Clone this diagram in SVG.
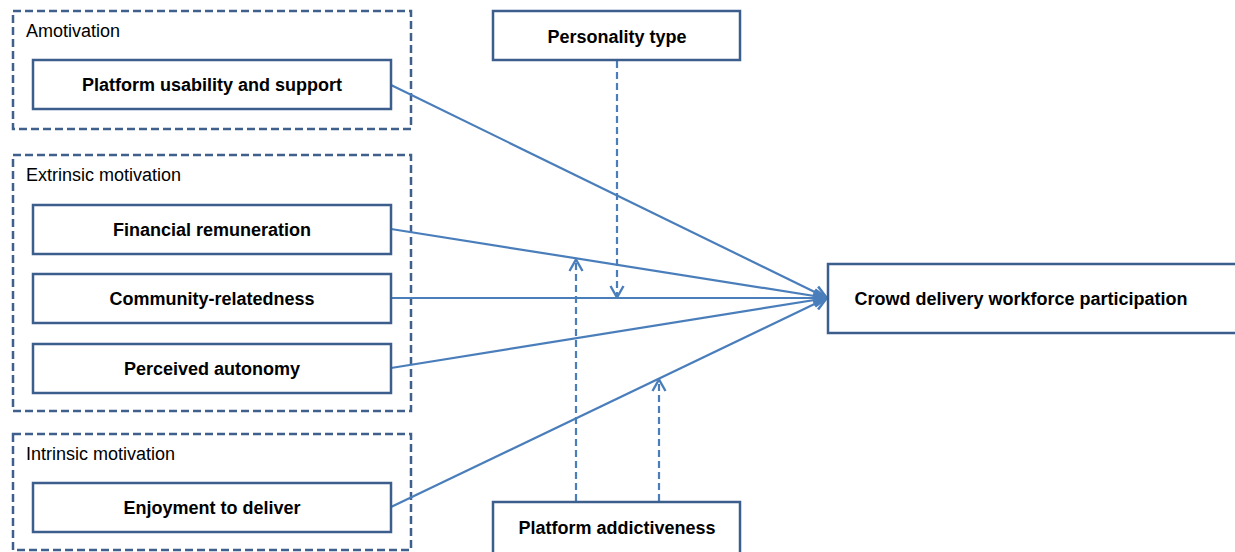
<svg xmlns="http://www.w3.org/2000/svg" width="1235" height="552" viewBox="0 0 1235 552">
<style>
.grp{fill:none;stroke:#3F5F8C;stroke-width:2.5;stroke-dasharray:8,4}
.box{fill:#fff;stroke:#3B5E8C;stroke-width:2.5}
.lbl{font-family:"Liberation Sans",Arial,sans-serif;font-weight:bold;font-size:18px;fill:#000;text-anchor:middle;dominant-baseline:central}
.gl{font-family:"Liberation Sans",Arial,sans-serif;font-size:18px;fill:#000}
.con{fill:none;stroke:#4A7EBB;stroke-width:2.2}
.dash{fill:none;stroke:#4A7EBB;stroke-width:2.2;stroke-dasharray:7,4}
</style>
<defs>
<marker id="ah" viewBox="0 0 16 16" refX="15" refY="8" markerWidth="16" markerHeight="16" markerUnits="userSpaceOnUse" orient="auto">
<path d="M3,1.5 L14.5,8 L3,14.5" fill="none" stroke="#4A7EBB" stroke-width="2.4"/>
</marker>
<marker id="ah2" viewBox="0 0 16 16" refX="15" refY="8" markerWidth="16" markerHeight="16" markerUnits="userSpaceOnUse" orient="auto">
<path d="M2,1.5 L14.5,8 L2,14.5" fill="none" stroke="#4A7EBB" stroke-width="2.6"/>
</marker>
</defs>
<g id="groups">
<g id="amotivation"><rect class="grp" x="13" y="11" width="398" height="118"/><text class="gl" x="26" y="37">Amotivation</text></g>
<g id="extrinsic"><rect class="grp" x="13" y="155" width="398" height="256"/><text class="gl" x="26" y="181">Extrinsic motivation</text></g>
<g id="intrinsic"><rect class="grp" x="13" y="434" width="398" height="116"/><text class="gl" x="26" y="460">Intrinsic motivation</text></g>
</g>
<g id="connectors">
<line class="con" x1="391" y1="85" x2="827" y2="298" marker-end="url(#ah2)"/>
<line class="con" x1="391" y1="229" x2="827" y2="298" marker-end="url(#ah2)"/>
<line class="con" x1="391" y1="298" x2="827" y2="298" marker-end="url(#ah2)"/>
<line class="con" x1="391" y1="368" x2="827" y2="298" marker-end="url(#ah2)"/>
<line class="con" x1="391" y1="507" x2="827" y2="298" marker-end="url(#ah2)"/>
<line class="dash" x1="617" y1="61" x2="617" y2="298" marker-end="url(#ah)"/>
<line class="dash" x1="576" y1="501" x2="576" y2="259" marker-end="url(#ah)"/>
<line class="dash" x1="659" y1="501" x2="659" y2="379" marker-end="url(#ah)"/>
</g>
<g id="platform-usability"><rect class="box" x="33" y="60" width="358" height="49"/><text class="lbl" x="212" y="85">Platform usability and support</text></g>
<g id="financial"><rect class="box" x="33" y="205" width="358" height="49"/><text class="lbl" x="212" y="230">Financial remuneration</text></g>
<g id="community"><rect class="box" x="33" y="274" width="358" height="49"/><text class="lbl" x="212" y="299">Community-relatedness</text></g>
<g id="autonomy"><rect class="box" x="33" y="344" width="358" height="49"/><text class="lbl" x="212" y="369">Perceived autonomy</text></g>
<g id="enjoyment"><rect class="box" x="33" y="483" width="358" height="49"/><text class="lbl" x="212" y="508">Enjoyment to deliver</text></g>
<g id="personality"><rect class="box" x="493" y="11" width="247" height="49"/><text class="lbl" x="617" y="37">Personality type</text></g>
<g id="addictiveness"><rect class="box" x="493" y="502" width="247" height="60"/><text class="lbl" x="617" y="528">Platform addictiveness</text></g>
<g id="participation"><rect class="box" x="828" y="264" width="420" height="69"/><text class="lbl" x="1021" y="299">Crowd delivery workforce participation</text></g>
</svg>
